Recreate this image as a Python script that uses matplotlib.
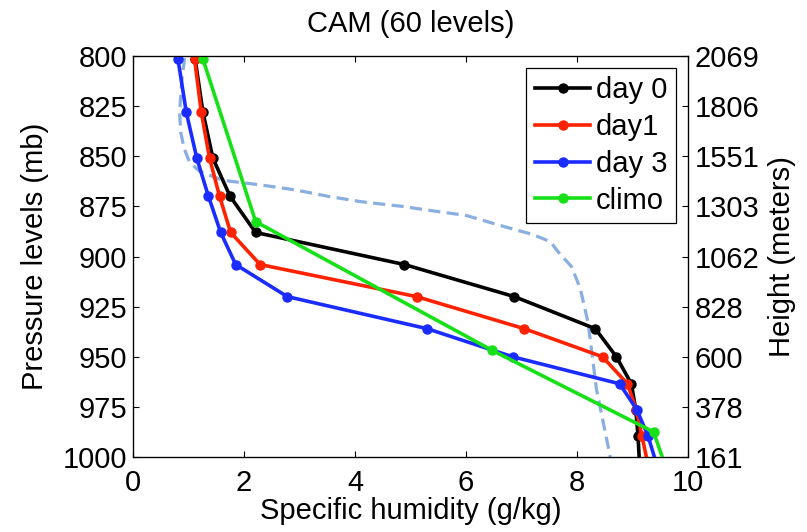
import matplotlib
matplotlib.use("Agg")
import matplotlib.pyplot as plt
from matplotlib.lines import Line2D

plt.rcParams['font.family'] = ['Liberation Sans', 'DejaVu Sans']

# Model levels (mb) used by the forecast profiles
levels = [801.5, 828, 851, 870, 888, 904, 920, 936, 950, 963.5, 976.5, 989.5, 1005]
day0 = [1.12, 1.26, 1.44, 1.75, 2.21, 4.89, 6.87, 8.33, 8.71, 8.98, 9.06, 9.10, 9.13]
day1 = [1.11, 1.23, 1.38, 1.56, 1.76, 2.29, 5.11, 7.05, 8.46, 8.91, 9.07, 9.17, 9.29]
day3 = [0.81, 0.96, 1.15, 1.36, 1.58, 1.85, 2.78, 5.30, 6.84, 8.77, 9.08, 9.28, 9.45]

# Climatology profile
climo_levels = [801.5, 882.6, 946.8, 987.5, 1005]
climo = [1.26, 2.21, 6.47, 9.38, 9.60]

# Reference (observed) profile, dashed
obs_levels = [801, 812, 828, 838, 846, 853, 857.5, 862, 864.3, 866.8, 870, 872.7,
              875, 877.6, 879.5, 885, 889, 892.6, 898, 905, 916, 933, 966, 1000]
obs = [0.93, 0.88, 0.84, 0.86, 0.92, 1.02, 1.20, 1.62, 2.30, 2.93, 3.52, 4.12,
       4.85, 5.50, 6.00, 6.68, 7.20, 7.52, 7.67, 7.90, 8.06, 8.20, 8.35, 8.60]

p_ticks = [800, 825, 850, 875, 900, 925, 950, 975, 1000]
height_labels = ['2069', '1806', '1551', '1303', '1062', '828', '600', '378', '161']
x_ticks = [0, 2, 4, 6, 8, 10]

FS = 21

fig = plt.figure(figsize=(8.07, 5.32), dpi=100)
ax = fig.add_axes([0.1648, 0.141, 0.6877, 0.7537])

ax.plot(obs, obs_levels, color='#89aee0', lw=2.3, dashes=(3.8, 2.0), zorder=2)

series = [(day0, levels, 'black', 'day 0'),
          (day1, levels, '#ff2200', 'day1'),
          (day3, levels, '#1a2cff', 'day 3'),
          (climo, climo_levels, '#18e018', 'climo')]
handles = []
for x, p, c, lab in series:
    ax.plot(x, p, color=c, lw=2.6, marker='o', ms=6.5, zorder=3)
    handles.append(Line2D([], [], color=c, lw=2.6, marker='o', ms=6.5, label=lab))

ax.set_xlim(0, 10)
ax.set_ylim(1000, 800)
ax.set_xticks(x_ticks)
ax.set_yticks(p_ticks)
ax.tick_params(axis='both', direction='in', length=4, width=0.8, labelsize=FS,
               top=True, pad=4)
ax.tick_params(axis='x', pad=9)
ax.set_xlabel('Specific humidity (g/kg)', fontsize=FS, labelpad=0)
ax.set_ylabel('Pressure levels (mb)', fontsize=FS, labelpad=10)
ax.set_title('CAM (60 levels)', fontsize=FS, pad=17)
for s in ax.spines.values():
    s.set_linewidth(0.9)

ax2 = ax.twinx()
ax2.set_ylim(1000, 800)
ax2.set_yticks(p_ticks)
ax2.set_yticklabels(height_labels)
ax2.tick_params(axis='y', direction='in', length=4, width=0.8, labelsize=FS, pad=5)
ax2.set_ylabel('Height (meters)', fontsize=FS, labelpad=6)

leg = ax.legend(handles=handles, loc='upper right', fontsize=FS, numpoints=1,
                handlelength=1.9, handletextpad=0.2, labelspacing=0.3,
                borderpad=0.3, borderaxespad=0.4, fancybox=False,
                framealpha=1, edgecolor='black')
leg.get_frame().set_linewidth(0.9)

fig.savefig('out.png', dpi=100)
